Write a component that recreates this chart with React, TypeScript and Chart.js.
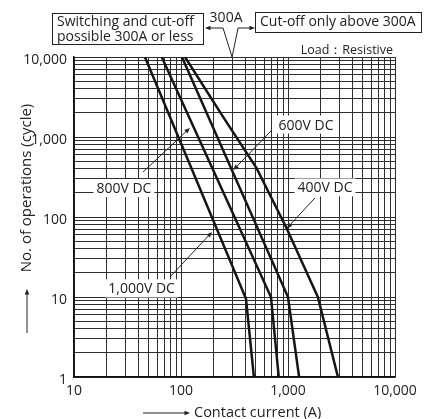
import React, { useEffect, useRef } from 'react';
import { Chart, registerables } from 'chart.js';

Chart.register(...registerables);

// ---- data ----
const xTickLabels = [10, 100, 1000, 10000];
const yTickLabels = [1, 10, 100, 1000, 10000];

const v1000X = [46, 405, 480];
const v1000Y = [10000, 9.5, 1];
const v800X = [66, 693, 820];
const v800Y = [10000, 10, 1];
const v600X = [102, 1000, 1270];
const v600Y = [10000, 10, 1];
const v400X = [109, 250, 510, 973, 1900, 2930];
const v400Y = [10000, 1750, 406, 72, 10, 1];

const seriesNames = ['1,000V DC', '800V DC', '600V DC', '400V DC'];
const seriesX = [v1000X, v800X, v600X, v400X];
const seriesY = [v1000Y, v800Y, v600Y, v400Y];

// label anchor (data coords), arrow start, arrow tip
const labelAt = [[42.8, 12.8], [29.3, 230], [1472, 1432], [2218, 234]];
const arrowFrom = [[78.9, 17.8], [44.2, 365], [708, 1223], [1786, 173]];
const arrowTip = [[195, 65], [121, 1296], [308, 387], [973, 72]];

const limitCurrent = 300;

const FONT = '"Open Sans", "Noto Sans", sans-serif';

function logGrid(min: number, max: number) {
  const out: number[] = [];
  for (let e = Math.round(Math.log10(min)); e < Math.round(Math.log10(max)); e++) {
    for (let m = 1; m < 10; m++) out.push(m * Math.pow(10, e));
  }
  out.push(max);
  return out;
}

function arrow(ctx: CanvasRenderingContext2D, x1: number, y1: number, x2: number, y2: number, head = 6) {
  const ang = Math.atan2(y2 - y1, x2 - x1);
  ctx.beginPath();
  ctx.moveTo(x1, y1);
  ctx.lineTo(x2 - Math.cos(ang) * head * 0.8, y2 - Math.sin(ang) * head * 0.8);
  ctx.stroke();
  ctx.beginPath();
  ctx.moveTo(x2, y2);
  ctx.lineTo(x2 - head * Math.cos(ang - 0.4), y2 - head * Math.sin(ang - 0.4));
  ctx.lineTo(x2 - head * Math.cos(ang + 0.4), y2 - head * Math.sin(ang + 0.4));
  ctx.closePath();
  ctx.fill();
}

const annotPlugin = {
  id: 'annot',
  afterDatasetsDraw(chart: any) {
    const ctx = chart.ctx as CanvasRenderingContext2D;
    const xs = chart.scales.x;
    const ys = chart.scales.y;
    ctx.save();
    ctx.font = `14px ${FONT}`;
    ctx.textAlign = 'center';
    ctx.textBaseline = 'middle';
    ctx.strokeStyle = '#222';
    ctx.fillStyle = '#222';
    ctx.lineWidth = 1;
    for (let i = 0; i < seriesNames.length; i++) {
      const fx = xs.getPixelForValue(arrowFrom[i][0]);
      const fy = ys.getPixelForValue(arrowFrom[i][1]);
      const tx = xs.getPixelForValue(arrowTip[i][0]);
      const ty = ys.getPixelForValue(arrowTip[i][1]);
      arrow(ctx, fx, fy, tx, ty, 6);
    }
    for (let i = 0; i < seriesNames.length; i++) {
      const lx = xs.getPixelForValue(labelAt[i][0]);
      const ly = ys.getPixelForValue(labelAt[i][1]);
      const w = ctx.measureText(seriesNames[i]).width;
      ctx.fillStyle = '#fff';
      ctx.fillRect(lx - w / 2 - 3, ly - 9, w + 6, 18);
      ctx.fillStyle = '#222';
      ctx.fillText(seriesNames[i], lx, ly + 1);
    }
    ctx.restore();
  },
  afterDraw(chart: any) {
    const ctx = chart.ctx as CanvasRenderingContext2D;
    const xs = chart.scales.x;
    const area = chart.chartArea;
    ctx.save();
    ctx.strokeStyle = '#222';
    ctx.fillStyle = '#222';
    ctx.lineWidth = 1;
    ctx.textBaseline = 'middle';

    // top boxes
    ctx.font = `14px ${FONT}`;
    ctx.strokeRect(52.5, 13.5, 151, 31);
    ctx.textAlign = 'left';
    ctx.fillText('Switching and cut-off', 57, 22);
    ctx.fillText('possible 300A or less', 57, 37);
    ctx.strokeRect(255.5, 12.5, 166, 20);
    ctx.fillText('Cut-off only above 300A', 260, 22.5);

    const vx = xs.getPixelForValue(limitCurrent);
    ctx.textAlign = 'center';
    ctx.fillText('300A', vx - 6, 18);
    ctx.beginPath();
    ctx.moveTo(vx - 9, 28);
    ctx.lineTo(vx, area.top);
    ctx.lineTo(vx + 6, 28);
    ctx.stroke();
    arrow(ctx, vx - 9, 28, 205, 28, 6);
    arrow(ctx, vx + 6, 28, 255, 28, 6);

    ctx.font = `12.5px ${FONT}`;
    ctx.textAlign = 'right';
    ctx.fillText('Load：Resistive', 393, 50);

    // axis titles
    ctx.font = `14.5px ${FONT}`;
    ctx.textAlign = 'left';
    ctx.fillText('Contact current (A)', 194, 413);
    arrow(ctx, 143, 413, 190, 413, 6);

    ctx.save();
    ctx.translate(27, 188);
    ctx.rotate(-Math.PI / 2);
    ctx.textAlign = 'center';
    ctx.font = `15px ${FONT}`;
    ctx.fillText('No. of operations (cycle)', 0, 0);
    ctx.restore();
    arrow(ctx, 27, 333, 27, 289, 6);

    ctx.restore();
  },
};

export default function App() {
  const ref = useRef<HTMLCanvasElement>(null);
  useEffect(() => {
    if (!ref.current) return;
    const datasets = seriesNames.map((name, i) => ({
      label: name,
      data: seriesX[i].map((x, j) => ({ x, y: seriesY[i][j] })),
      borderColor: '#151515',
      borderWidth: 2.5,
      pointRadius: 0,
      fill: false,
      tension: 0,
    }));
    const fmt = (list: number[]) => (v: any) => {
      const n = Number(v);
      return list.some((t) => Math.abs(t - n) < 1e-6) ? n.toLocaleString('en-US') : '';
    };
    const chart = new Chart(ref.current, {
      type: 'line',
      data: { datasets },
      options: {
        animation: false,
        responsive: false,
        maintainAspectRatio: false,
        layout: { padding: { top: 57, right: 30, left: 0, bottom: 0 } },
        plugins: { legend: { display: false }, tooltip: { enabled: false } },
        scales: {
          x: {
            type: 'logarithmic',
            min: 10,
            max: 10000,
            afterBuildTicks: (s: any) => {
              s.ticks = logGrid(10, 10000).map((value) => ({ value }));
            },
            afterFit: (s: any) => {
              s.height = 42;
            },
            ticks: {
              autoSkip: false,
              maxRotation: 0,
              padding: 6,
              color: '#222',
              font: { family: FONT, size: 14 },
              callback: fmt(xTickLabels),
            },
            grid: { color: '#2e2e2e', lineWidth: 1, drawTicks: false },
            border: { color: '#111', width: 1.5 },
          },
          y: {
            type: 'logarithmic',
            min: 1,
            max: 10000,
            afterBuildTicks: (s: any) => {
              s.ticks = logGrid(1, 10000).map((value) => ({ value }));
            },
            afterFit: (s: any) => {
              s.width = 74;
            },
            ticks: {
              autoSkip: false,
              padding: 7,
              labelOffset: 3,
              color: '#222',
              font: { family: FONT, size: 14 },
              callback: fmt(yTickLabels),
            },
            grid: { color: '#2e2e2e', lineWidth: 1, drawTicks: false },
            border: { color: '#111', width: 1.5 },
          },
        },
      },
      plugins: [annotPlugin],
    });
    return () => chart.destroy();
  }, []);
  return (
    <div style={{ position: 'fixed', left: 0, top: 0, width: 425, height: 419, background: '#fff' }}>
      <canvas ref={ref} width={425} height={419} style={{ width: 425, height: 419, display: 'block' }} />
    </div>
  );
}
